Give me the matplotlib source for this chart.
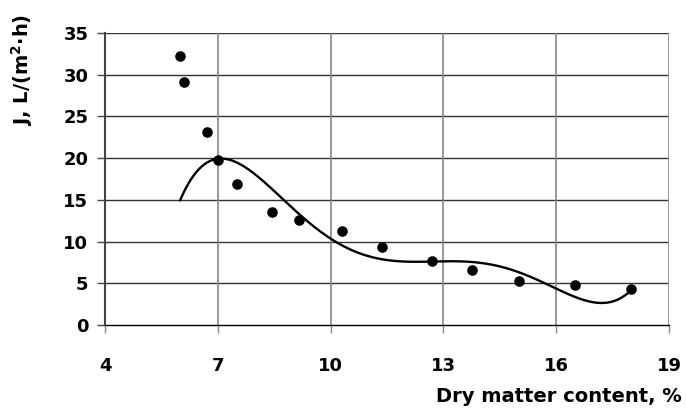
import numpy as np
import matplotlib
matplotlib.use("Agg")
import matplotlib.pyplot as plt

plt.rcParams['font.family'] = ['DejaVu Sans']

# measured points
x_pts = [6.0, 6.1, 6.7, 7.0, 7.5, 8.44, 9.16, 10.3, 11.37, 12.7, 13.76, 15.0, 16.5, 18.0]
y_pts = [32.2, 29.1, 23.1, 19.8, 16.9, 13.5, 12.6, 11.3, 9.35, 7.7, 6.6, 5.3, 4.8, 4.3]

# trend curve
x_curve = [6.0, 6.5, 7.0, 7.5, 8.0, 8.73, 9.3, 10.0, 10.25, 11.4, 12.7, 13.8, 14.95, 15.75, 16.0, 17.1, 18.0]
y_curve = [15.1, 18.4, 20.0, 19.5, 18.2, 15.0, 13.0, 10.0, 9.6, 8.0, 7.7, 7.55, 6.2, 5.0, 4.4, 2.65, 4.2]

x_ticks = [4, 7, 10, 13, 16, 19]
y_ticks = [0, 5, 10, 15, 20, 25, 30, 35]

fig = plt.figure(figsize=(6.86, 4.08), dpi=100)
ax = fig.add_axes([105/686, 1-325/408, (669-105)/686, (325-33)/408])

# smooth trend through read curve samples
coef = np.polyfit(x_curve, y_curve, 6)
xs = np.linspace(min(x_curve), max(x_curve), 300)
ax.plot(xs, np.polyval(coef, xs), color='black', lw=1.7, zorder=3)

ax.scatter(x_pts, y_pts, s=58, color='black', zorder=4, linewidths=0)

ax.set_xlim(4, 19)
ax.set_ylim(0, 35)
ax.set_xticks(x_ticks)
ax.set_yticks(y_ticks)
ax.set_xticklabels([str(v) for v in x_ticks], fontsize=13, fontweight='bold')
ax.set_yticklabels([str(v) for v in y_ticks], fontsize=13, fontweight='bold')

for y in y_ticks[1:]:
    ax.axhline(y, color='#333333', lw=1.0, zorder=1)
for x in x_ticks[1:]:
    ax.axvline(x, color='#888888', lw=1.2, zorder=1)

for s in ['top', 'right']:
    ax.spines[s].set_visible(False)
ax.spines['left'].set_color('#444444')
ax.spines['left'].set_linewidth(1.5)
ax.spines['bottom'].set_color('black')
ax.spines['bottom'].set_linewidth(1.0)

ax.tick_params(axis='x', length=6, width=1, color='#888888', pad=17)
ax.tick_params(axis='y', length=6, width=1, color='#444444', pad=6)

fig.text(682/686, 1-396/408, 'Dry matter content, %', ha='right', va='center',
         fontsize=14, fontweight='bold')
fig.text(22/686, 1-70/408, 'J, L/(m$^\\mathbf{2}$·h)', ha='center', va='center',
         rotation=90, fontsize=14, fontweight='bold')

fig.savefig('out.png', dpi=100)
